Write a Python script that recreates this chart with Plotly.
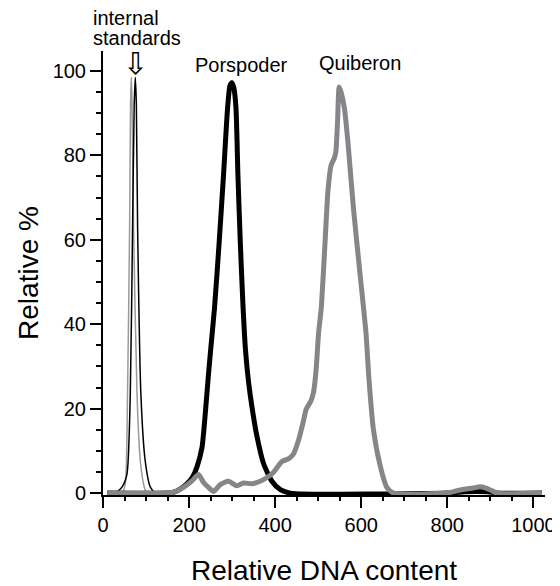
import plotly.graph_objects as go

# tick labels
x_ticks = [0, 200, 400, 600, 800, 1000]
y_ticks = [0, 20, 40, 60, 80, 100]

# internal standards (thin lines)
std_black_x = [20, 30, 44, 55.7, 63.4, 68.7, 72.5, 75, 77.5, 80.4, 88, 98, 110, 121, 130]
std_black_y = [0, 0.1, 1.4, 4.5, 23.5, 63, 92, 98.5, 92, 63, 23.5, 7.7, 1.4, 0.1, 0]

std_gray_x = [35, 44, 51.8, 57, 61.8, 64, 65.7, 67.5, 71, 79, 86.6, 96, 102, 110]
std_gray_y = [0, 0.1, 2.2, 23.5, 63, 92, 98.5, 92, 63, 23.5, 7.7, 1.4, 0.1, 0]

# Porspoder (thick black)
porspoder_x = [10, 150, 164, 180, 195, 208, 218, 230, 237.6, 245, 252, 259, 270, 280, 289.4,
               295, 299.6, 304, 309, 313.5, 319, 325, 331, 338, 346, 357.6, 373, 392.5,
               412, 435, 800, 840, 870, 895, 915, 1020]
porspoder_y = [0, 0, 0.2, 1.0, 2.2, 3.8, 6.1, 10.8, 18.8, 28, 36, 43.7, 59.5, 75.3, 91.1,
               96.5, 97.2, 96, 91.1, 75.3, 59.5, 45, 34, 26.5, 20.5, 13.5, 7, 2.8,
               0.8, 0, 0, 0.3, 0.4, 0.3, 0, 0]

# Quiberon (thick gray)
quiberon_x = [10, 133, 164, 187, 206.7, 222, 233.7, 245, 257, 272.4, 291.7, 311, 326.5, 346,
              365, 381, 396, 415.7, 431, 442.6, 454, 466, 472, 483, 489, 495, 501, 507, 516,
              522.5, 530, 537, 541, 545, 548.8, 553, 561, 569, 582, 597.5, 611, 618, 628.4,
              644, 659.5, 675, 800, 820, 840, 860, 876, 890, 903, 915, 1020]
quiberon_y = [0, 0, 0.2, 1.35, 2.9, 4.4, 2.5, 1.35, 0.4, 2.0, 2.8, 1.75, 2.4, 2.2,
              2.8, 3.7, 4.9, 7.5, 8.1, 9.3, 12.4, 17.2, 19.8, 21.8, 23.8, 29, 38, 43.7, 59.5,
              71.3, 77.6, 79.2, 80.8, 88, 96.2, 95, 91.1, 83.2, 67.4, 51.6, 38, 27, 15,
              6.5, 1.35, 0, 0, 0.5, 0.9, 1.2, 1.5, 1.2, 0.6, 0, 0]

font = "Liberation Sans, Arial, sans-serif"

fig = go.Figure()
fig.add_trace(go.Scatter(x=std_gray_x, y=std_gray_y, mode="lines",
                         line=dict(color="#9a9a9a", width=1.5, shape="spline", smoothing=0.6)))
fig.add_trace(go.Scatter(x=std_black_x, y=std_black_y, mode="lines",
                         line=dict(color="black", width=1.5, shape="spline", smoothing=0.6)))
fig.add_trace(go.Scatter(x=porspoder_x, y=porspoder_y, mode="lines",
                         line=dict(color="black", width=5, shape="spline", smoothing=0.6)))
fig.add_trace(go.Scatter(x=quiberon_x, y=quiberon_y, mode="lines",
                         line=dict(color="#86868a", width=5, shape="spline", smoothing=0.6)))

# labels
fig.add_annotation(xref="paper", yref="paper", x=-0.028, y=1.074, text="internal",
                   showarrow=False, xanchor="left", yanchor="middle",
                   font=dict(size=20, color="black", family=font))
fig.add_annotation(xref="paper", yref="paper", x=-0.028, y=1.029, text="standards",
                   showarrow=False, xanchor="left", yanchor="middle",
                   font=dict(size=20, color="black", family=font))
fig.add_annotation(x=75, y=101.8, text="⇩", showarrow=False, yanchor="middle",
                   font=dict(size=30, color="black", family="DejaVu Sans"))
fig.add_annotation(x=321.6, y=101.4, text="Porspoder", showarrow=False,
                   font=dict(size=20, color="black", family=font))
fig.add_annotation(x=597.7, y=101.8, text="Quiberon", showarrow=False,
                   font=dict(size=20, color="black", family=font))

# page body has an 8px margin, so the figure is drawn 8px in and down
fig.update_layout(
    width=552, height=578,
    margin=dict(l=95, r=15, t=43, b=91),
    paper_bgcolor="white", plot_bgcolor="white",
    showlegend=False,
    font=dict(family=font, size=20, color="black"),
)
fig.update_xaxes(
    range=[0, 1027], tickvals=x_ticks, ticktext=[str(v) for v in x_ticks],
    showgrid=False, zeroline=False, showline=True, linecolor="black", linewidth=2,
    ticks="outside", ticklen=11, tickwidth=2, tickcolor="black", automargin=False,
    minor=dict(dtick=50, ticks="outside", ticklen=4, tickwidth=2, tickcolor="black"),
    title=dict(text="Relative DNA content", font=dict(size=28), standoff=35),
)
fig.update_yaxes(
    range=[-0.45, 104.7], tickvals=y_ticks, ticktext=[str(v) for v in y_ticks],
    showgrid=False, zeroline=False, showline=True, linecolor="black", linewidth=2,
    ticks="outside", ticklen=11, tickwidth=2, tickcolor="black", automargin=False,
    minor=dict(dtick=5, ticks="outside", ticklen=5, tickwidth=2, tickcolor="black"),
    title=dict(text="Relative %", font=dict(size=28), standoff=6),
)

fig.write_html("out.html")
